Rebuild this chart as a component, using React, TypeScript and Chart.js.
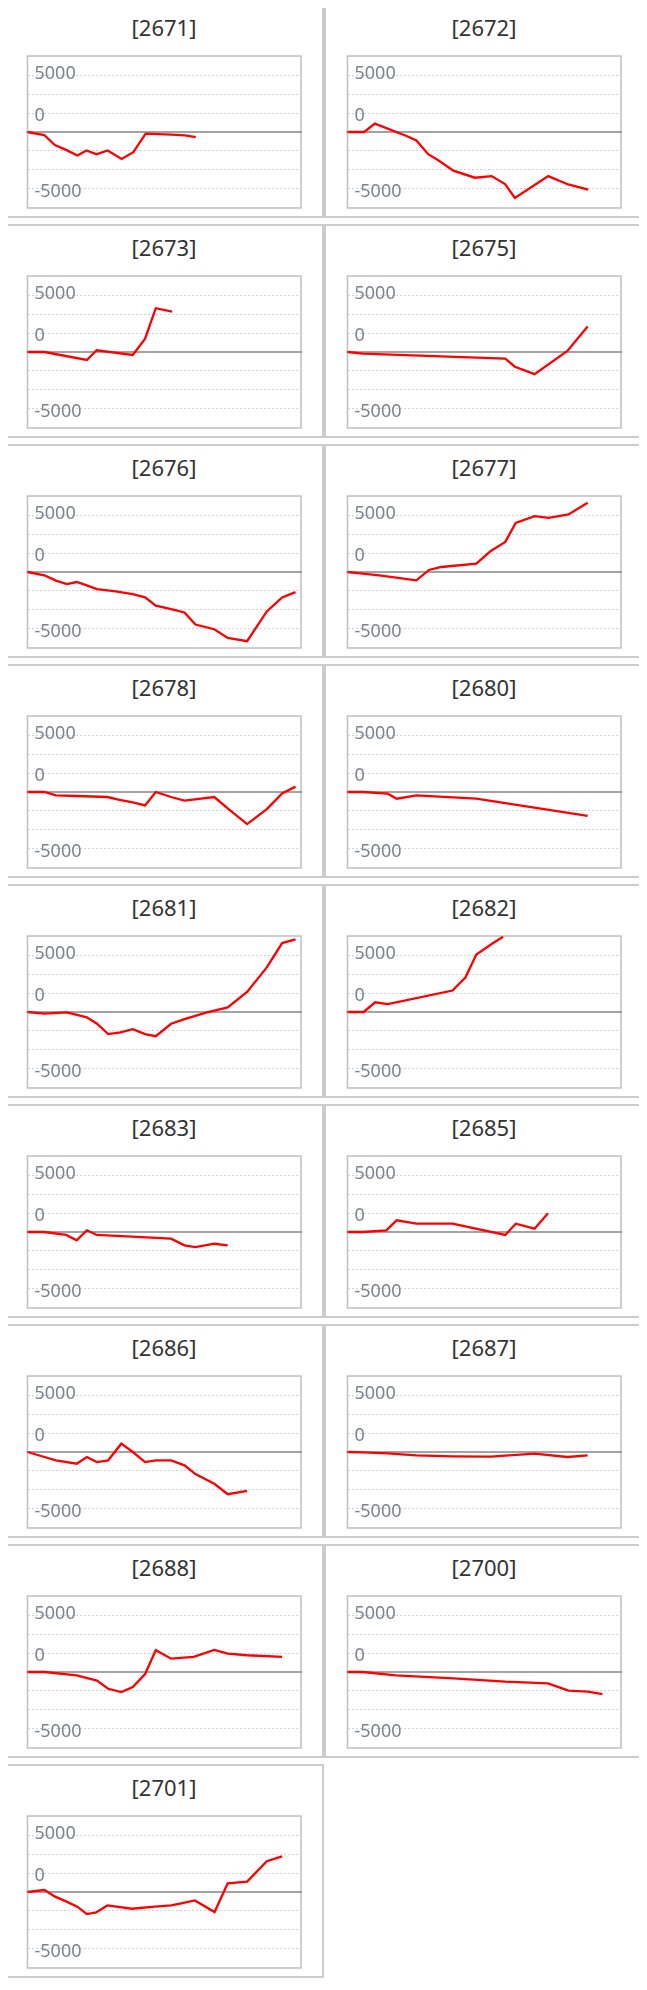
// Small multiples of cumulative P/L per code
import React, { useEffect, useRef } from 'react';
import Chart from 'chart.js/auto';

// x = position in the period (0-100), y = cumulative value
const t2671 = [0, 6.1, 10.0, 14.3, 18.2, 21.6, 25.2, 29.3, 34.4, 38.7, 43.2, 52.7, 57.6, 61.5];
const v2671 = [0, -265, -1150, -1590, -2065, -1620, -1950, -1620, -2360, -1770, -150, -235, -295, -440];

const t2672 = [0, 6.1, 10.0, 21.6, 25.2, 29.5, 33.2, 38.7, 46.6, 52.7, 57.6, 61.2, 73.4, 80.7, 88.0];
const v2672 = [0, 0, 740, -350, -740, -1950, -2480, -3390, -4010, -3870, -4570, -5780, -3870, -4600, -5050];

const t2673 = [0, 6.2, 21.7, 25.3, 38.5, 43.0, 46.9, 52.9];
const v2673 = [0, 0, -700, 150, -260, 1170, 3840, 3550];

const t2675 = [0, 5.6, 57.7, 61.2, 68.4, 80.4, 87.8];
const v2675 = [0, -150, -590, -1290, -1940, 90, 2230];

const t2676 = [0, 6.2, 10.4, 14.4, 18.0, 21.7, 25.4, 32.2, 38.5, 43.0, 46.9, 52.5, 57.4, 61.4, 68.3, 73.2, 80.3, 87.5, 93.1, 98.0];
const v2676 = [0, -290, -760, -1060, -880, -1170, -1500, -1700, -1940, -2230, -2960, -3260, -3550, -4610, -5020, -5780, -6070, -3460, -2230, -1760];

const t2677 = [0, 5.6, 11.6, 25.2, 29.8, 34.3, 47.1, 52.4, 57.7, 61.5, 68.4, 73.6, 80.8, 87.8];
const v2677 = [0, -150, -290, -730, 180, 440, 730, 1850, 2640, 4310, 4900, 4750, 5050, 6070];

const t2678 = [0, 6.2, 10.4, 18.0, 29.2, 33.7, 38.5, 43.0, 46.9, 52.5, 57.4, 68.3, 73.2, 80.3, 87.5, 93.1, 98.0];
const v2678 = [0, 0, -290, -350, -440, -700, -910, -1180, 0, -440, -760, -440, -1440, -2820, -1500, -120, 470];

const t2680 = [0, 5.6, 14.7, 18.0, 25.2, 47.1, 87.8];
const v2680 = [0, 0, -150, -590, -290, -590, -2090];

const t2681 = [0, 6.2, 14.4, 21.7, 25.4, 29.5, 34.0, 38.5, 43.0, 46.9, 52.5, 57.4, 65.3, 73.2, 80.3, 87.5, 93.1, 98.0];
const v2681 = [0, -150, -30, -470, -1030, -1940, -1790, -1500, -1940, -2120, -1030, -620, -60, 410, 1760, 3910, 6050, 6380];

const t2682 = [0, 5.9, 10.1, 14.7, 38.4, 43.1, 47.1, 53.1, 56.9];
const v2682 = [0, 0, 850, 700, 1880, 3030, 5050, 6030, 6600];

const t2683 = [0, 6.2, 14.1, 18.0, 21.7, 25.4, 38.2, 52.5, 57.4, 61.4, 68.3, 73.2];
const v2683 = [0, 0, -260, -730, 150, -260, -410, -590, -1170, -1320, -1030, -1170];

const t2685 = [0, 5.6, 14.2, 18.0, 25.2, 38.4, 57.7, 61.5, 68.4, 73.3];
const v2685 = [0, 0, 150, 1030, 730, 730, -260, 730, 290, 1640];

const t2686 = [0, 6.2, 10.4, 18.0, 21.7, 25.4, 29.5, 34.3, 38.5, 43.0, 46.9, 52.5, 57.4, 61.4, 68.3, 73.2, 80.3];
const v2686 = [0, -440, -730, -1030, -440, -880, -730, 730, 0, -880, -730, -730, -1170, -1940, -2790, -3700, -3400];

const t2687 = [0, 5.6, 14.7, 25.2, 38.4, 52.4, 68.4, 80.4, 87.8];
const v2687 = [0, -30, -120, -290, -380, -410, -150, -440, -290];

const t2688 = [0, 6.2, 18.0, 25.4, 29.5, 34.3, 38.5, 43.0, 46.9, 52.5, 60.8, 68.3, 73.2, 80.3, 93.1];
const v2688 = [0, 0, -290, -760, -1470, -1760, -1320, -180, 1910, 1170, 1320, 1940, 1610, 1470, 1320];

const t2700 = [0, 5.6, 17.7, 38.8, 57.7, 73.3, 80.8, 87.8, 93.2];
const v2700 = [0, 0, -290, -560, -850, -1000, -1640, -1730, -1940];

const t2701 = [0, 6.2, 10.1, 14.1, 18.2, 21.7, 25.1, 29.2, 38.2, 46.5, 52.5, 56.2, 61.2, 68.4, 73.2, 80.3, 87.5, 93.1];
const v2701 = [0, 180, -410, -820, -1290, -1940, -1790, -1180, -1470, -1290, -1180, -1000, -740, -1760, 760, 910, 2700, 3120];

const codes = ['2671', '2672', '2673', '2675', '2676', '2677', '2678', '2680', '2681', '2682', '2683', '2685', '2686', '2687', '2688', '2700', '2701'];
const times = [t2671, t2672, t2673, t2675, t2676, t2677, t2678, t2680, t2681, t2682, t2683, t2685, t2686, t2687, t2688, t2700, t2701];
const values = [v2671, v2672, v2673, v2675, v2676, v2677, v2678, v2680, v2681, v2682, v2683, v2685, v2686, v2687, v2688, v2700, v2701];

// y axis
const yMin = -6667;
const yMax = 6667;
const gridValues = [-5000, -3333.3, -1666.7, 1666.7, 3333.3, 5000];
const tickValues = [5000, 0, -5000];
const tickLabels = ['5000', '0', '-5000'];
// the labels sit a bit off their lines in the original
const tickShift = [-1.5, -16, 2.5];

const FONT = '"Noto Sans", sans-serif';

const framePlugin = {
  id: 'frame',
  beforeDatasetsDraw(chart: any) {
    const { ctx, chartArea } = chart;
    const y = chart.scales.y;
    const { left, right, top, bottom } = chartArea;
    ctx.save();
    // box
    ctx.strokeStyle = '#bfbfbf';
    ctx.lineWidth = 1.5;
    ctx.strokeRect(left, top, right - left, bottom - top);
    // zero line
    const y0 = y.getPixelForValue(0);
    ctx.strokeStyle = '#858585';
    ctx.lineWidth = 1.6;
    ctx.beginPath();
    ctx.moveTo(left - 1, y0);
    ctx.lineTo(right + 1, y0);
    ctx.stroke();
    // labels
    ctx.fillStyle = '#7d838c';
    ctx.font = '18px ' + FONT;
    ctx.textAlign = 'left';
    ctx.textBaseline = 'middle';
    tickValues.forEach((v, i) => {
      ctx.fillText(tickLabels[i], left + 7, y.getPixelForValue(v) + tickShift[i]);
    });
    ctx.restore();
  },
};

const Panel = ({ code, t, v }: { code: string; t: number[]; v: number[] }) => {
  const chartRef = useRef<HTMLCanvasElement>(null);
  const chartInstanceRef = useRef<Chart | null>(null);

  useEffect(() => {
    const myChartRef = chartRef.current?.getContext('2d');
    if (chartInstanceRef.current) {
      chartInstanceRef.current.destroy();
    }
    if (myChartRef) {
      chartInstanceRef.current = new Chart(myChartRef, {
        type: 'line',
        data: {
          datasets: [{
            data: t.map((x, i) => ({ x, y: v[i] })),
            borderColor: '#ff0000',
            borderWidth: 2.3,
            pointRadius: 0,
            tension: 0,
            fill: false,
          }],
        },
        options: {
          animation: false,
          responsive: true,
          maintainAspectRatio: false,
          events: [],
          layout: { padding: { left: 1.5, top: 2, right: 5, bottom: 4 } },
          plugins: {
            legend: { display: false },
            tooltip: { enabled: false },
          },
          scales: {
            x: { type: 'linear', min: 0, max: 100, display: false },
            y: {
              type: 'linear',
              min: yMin,
              max: yMax,
              afterBuildTicks: (axis: any) => {
                axis.ticks = gridValues.map((value) => ({ value }));
              },
              ticks: { display: false },
              grid: { color: '#d2d2d2', lineWidth: 1, drawTicks: false },
              border: { display: false, dash: [2, 2] },
            },
          },
        },
        plugins: [framePlugin],
      });
    }
    return () => {
      if (chartInstanceRef.current) {
        chartInstanceRef.current.destroy();
        chartInstanceRef.current = null;
      }
    };
  }, [t, v]);

  return (
    <div style={{ position: 'relative', width: 320, height: 214, boxSizing: 'border-box', border: '2px solid #cccccc', background: '#fff' }}>
      <div style={{ position: 'absolute', left: 0, right: 0, top: 0, height: 43, lineHeight: '43px', textAlign: 'center', fontFamily: FONT, fontSize: 22, color: '#333' }}>
        [{code}]
      </div>
      <div style={{ position: 'absolute', left: 20, top: 48, width: 280, height: 158 }}>
        <canvas ref={chartRef} />
      </div>
    </div>
  );
};

const App = () => {
  return (
    <div style={{ marginLeft: -4, marginTop: -4, display: 'grid', gridTemplateColumns: '320px 320px', rowGap: 6 }}>
      {codes.map((code, i) => (
        <Panel key={code} code={code} t={times[i]} v={values[i]} />
      ))}
    </div>
  );
};

export default App;
